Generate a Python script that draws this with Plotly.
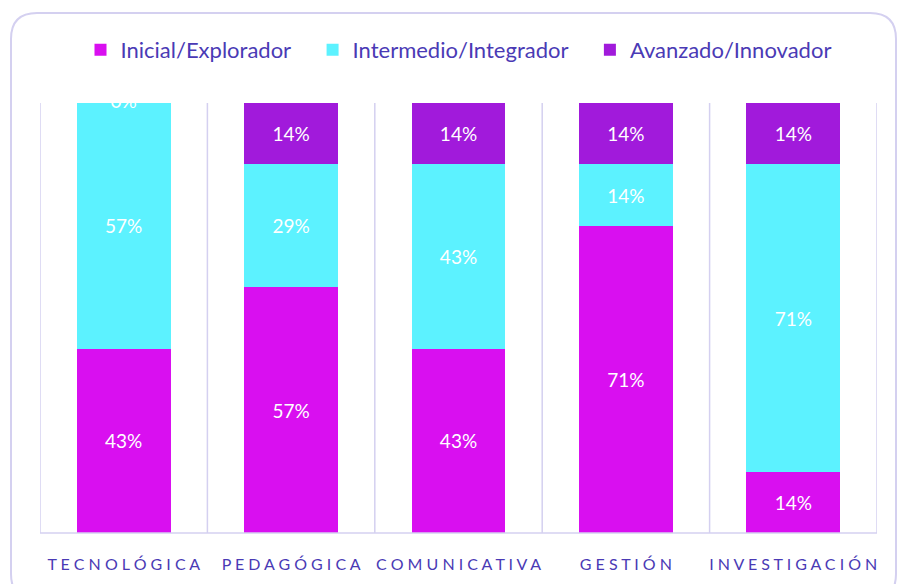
import plotly.graph_objects as go

categories = ["TECNOLÓGICA", "PEDAGÓGICA", "COMUNICATIVA", "GESTIÓN", "INVESTIGACIÓN"]
inicial = [42.9, 57.1, 42.9, 71.4, 14.3]
intermedio = [57.1, 28.6, 42.9, 14.3, 71.4]
avanzado = [0.0, 14.3, 14.3, 14.3, 14.3]
series_names = ["Inicial/Explorador", "Intermedio/Integrador", "Avanzado/Innovador"]
colors = ["#D90FF0", "#5CF2FF", "#A11ADB"]

W, H = 897, 584
ml, mr, mt, mb = 40, 20, 103, 51
pw, ph = W - ml - mr, H - mt - mb

def spaced(s):
    return " ".join(list(s))

label_font = dict(color="white", size=19, family="Lato")
fig = go.Figure()
for i, (name, vals, col) in enumerate(zip(series_names, [inicial, intermedio, avanzado], colors)):
    pad = "\u00a0\u00a0\u00a0" if i < len(series_names) - 1 else ""
    fig.add_trace(go.Bar(
        x=categories, y=vals, name=name + pad, marker=dict(color=col, line=dict(width=0)),
        texttemplate=["%{y:.0f}%" if v > 0 else "" for v in vals],
        textposition="inside", insidetextanchor="middle",
        textfont=label_font, hoverinfo="skip",
    ))

# zero label clipped at top of plot for the empty segment
zero_x = [c for c, v in zip(categories, avanzado) if v == 0]
fig.add_trace(go.Scatter(
    x=zero_x, y=[100] * len(zero_x), mode="text", text=["0%"] * len(zero_x),
    textposition="middle center", textfont=label_font,
    cliponaxis=True, showlegend=False, hoverinfo="skip",
))

line_col = "#D4D0F0"
shapes = []
for i in range(len(categories) + 1):
    shapes.append(dict(type="line", xref="x", yref="paper", x0=i - 0.5, x1=i - 0.5,
                       y0=0, y1=1, line=dict(color=line_col, width=1.5), layer="below"))
shapes.append(dict(type="line", xref="paper", yref="paper", x0=0, x1=1, y0=0, y1=0,
                   line=dict(color=line_col, width=1.5)))

# rounded outer border
def px2x(px):
    return (px - ml) / pw
def py2y(py):
    return (H - mb - py) / ph
L, R, T, B, r = 11, 896, 13, 600, 26
rx, ry = r / pw, r / ph
x0, x1, y0, y1 = px2x(L), px2x(R), py2y(B), py2y(T)
path = (f"M {x0+rx} {y1} L {x1-rx} {y1} Q {x1} {y1} {x1} {y1-ry} "
        f"L {x1} {y0+ry} Q {x1} {y0} {x1-rx} {y0} L {x0+rx} {y0} "
        f"Q {x0} {y0} {x0} {y0+ry} L {x0} {y1-ry} Q {x0} {y1} {x0+rx} {y1} Z")
shapes.append(dict(type="path", xref="paper", yref="paper", path=path,
                   line=dict(color=line_col, width=2), layer="below"))

fig.update_layout(
    width=W, height=H, barmode="stack", bargap=0.44,
    margin=dict(l=ml, r=mr, t=mt, b=mb, autoexpand=False),
    paper_bgcolor="white", plot_bgcolor="white",
    font=dict(family="Lato", color="#4A3AB5"),
    legend=dict(orientation="h", x=0.5, xanchor="center", y=py2y(50), yanchor="middle",
                font=dict(size=22, color="#4A3AB5"), itemwidth=30, traceorder="normal"),
    shapes=shapes,
    xaxis=dict(tickvals=categories, ticktext=[spaced(c) for c in categories],
               tickfont=dict(size=16, color="#4A3AB5"), showgrid=False, showline=False,
               ticks="", range=[-0.5, 4.5], ticklabelstandoff=20, automargin=False),
    yaxis=dict(range=[0, 100], showgrid=False, showticklabels=False, zeroline=False,
               showline=False, ticks="", automargin=False),
)
fig.write_html("out.html", post_script="document.body.style.margin='0';",
               config={"displayModeBar": False})
